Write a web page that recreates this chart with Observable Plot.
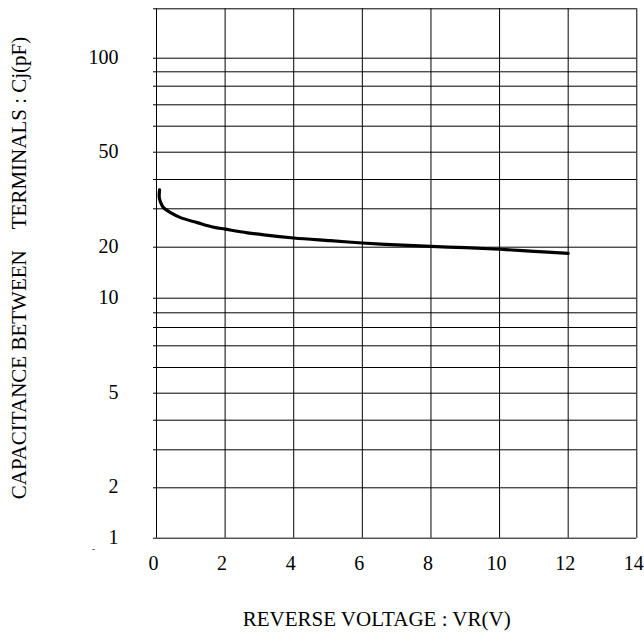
<!DOCTYPE html>
<html><head><meta charset="utf-8">
<script src="https://cdn.jsdelivr.net/npm/d3@7"></script>
<script src="https://cdn.jsdelivr.net/npm/@observablehq/plot@0.6"></script>
<style>body{margin:0;background:#fff}</style>
</head><body><div id="chart"></div>
<script>
// Curve readings: reverse voltage (V) and terminal capacitance (pF)
const voltage     = [0.09, 0.08, 0.12, 0.21, 0.41, 0.70, 1.19, 1.67, 2.0, 2.65, 3.13, 4.0, 5.07, 6.0, 7.0, 8.0, 9.0, 10.0, 11.0, 12.0];
const capacitance = [36.5, 33.9, 32.2, 30.3, 29.0, 27.7, 26.4, 25.2, 24.7, 23.75, 23.2, 22.4, 21.7, 21.1, 20.6, 20.2, 19.9, 19.6, 19.2, 18.8];

const xTicks = [0, 2, 4, 6, 8, 10, 12, 14];
const yTickLabels = [1, 2, 5, 10, 20, 50, 100];
const yGridValues = [1, 2, 3, 4, 5, 6, 7, 8, 9, 10, 20, 30, 40, 50, 60, 70, 80, 90, 100, 200];
const xTitle = "REVERSE VOLTAGE : VR(V)";
const yTitle = "CAPACITANCE BETWEEN\u00a0\u00a0\u00a0\u00a0TERMINALS : Cj(pF)";
const strayMark = "-";

const curve = voltage.map((v, i) => ({v, c: capacitance[i]}));

// The graph paper's (non-uniform) ruling: pixel position of each gridline value
const paperRuling = [537.7, 487.3, 449.3, 419.7, 392.7, 367, 345.3, 327, 312.3, 297.7,
                     246.7, 208.3, 179, 151.7, 125.7, 104.3, 85.7, 71.3, 57.7, 8.3];

const chart = Plot.plot({
  width: 644,
  height: 633,
  marginTop: 8.3,
  marginBottom: 95.3,
  marginLeft: 156,
  marginRight: 7.7,
  style: {fontFamily: "'Liberation Serif', 'Times New Roman', serif", fontSize: "20px", background: "#fff", color: "#000"},
  x: {domain: [0, 14]},
  y: {type: "linear", domain: yGridValues, range: paperRuling},
  marks: [
    Plot.ruleY(yGridValues, {stroke: "#000", strokeWidth: 1, insetLeft: -3}),
    Plot.ruleX(xTicks, {stroke: "#000", strokeWidth: 1}),
    Plot.line(curve, {x: "v", y: "c", curve: "catmull-rom", stroke: "#000", strokeWidth: 3.2}),
    Plot.axisX({ticks: xTicks, tickSize: 0, tickPadding: 18, label: null, fontSize: 20, dx: -3}),
    Plot.axisY({ticks: yTickLabels, tickSize: 0, tickPadding: 38, label: null, fontSize: 20, dy: -1, tickFormat: d => String(d)}),
    Plot.text([xTitle], {text: d => d, frameAnchor: "bottom", textAnchor: "middle", dx: -20, dy: 88, lineAnchor: "bottom", fontSize: 21, fill: "#000"}),
    Plot.text([yTitle], {text: d => d, frameAnchor: "left", textAnchor: "middle", rotate: -90, dx: -131, dy: -5.5, lineAnchor: "bottom", fontSize: 21, fill: "#000"}),
    Plot.text([strayMark], {text: d => d, frameAnchor: "bottom-left", textAnchor: "middle", dx: -63, dy: 14, fontSize: 9, fill: "#000"})
  ]
});
document.getElementById("chart").append(chart);
</script>
</body></html>
